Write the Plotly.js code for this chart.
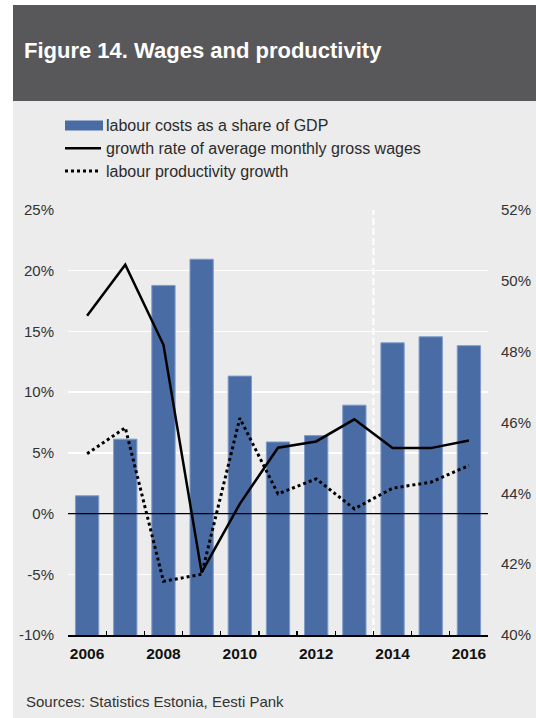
<!DOCTYPE html>
<html>
<head>
<meta charset="utf-8">
<script src="https://cdn.plot.ly/plotly-3.0.1.min.js"></script>
<style>html,body{margin:0;padding:0;background:#fff;}#chart{width:536px;height:718px;}</style>
</head>
<body>
<div id="chart"></div>
<script>
// ---- data ----
var years = ['2006','2007','2008','2009','2010','2011','2012','2013','2014','2015','2016'];
var yearLabels = ['2006','','2008','','2010','','2012','','2014','','2016'];
var labourShare = [43.93, 45.53, 49.87, 50.61, 47.31, 45.45, 45.63, 46.49, 48.25, 48.42, 48.17];
var wageGrowth = [16.3, 20.5, 13.9, -4.85, 0.8, 5.42, 5.94, 7.76, 5.39, 5.39, 6.02];
var productivityGrowth = [4.93, 7.07, -5.58, -5.0, 7.86, 1.62, 2.86, 0.39, 2.09, 2.58, 3.96];
var seriesNames = ['labour costs as a share of GDP', 'growth rate of average monthly gross wages', 'labour productivity growth'];
var leftTickVals = [-10, -5, 0, 5, 10, 15, 20, 25];
var leftTickText = ['-10%', '-5%', '0%', '5%', '10%', '15%', '20%', '25%'];
var rightTickVals = [40, 42, 44, 46, 48, 50, 52];
var rightTickText = ['40%', '42%', '44%', '46%', '48%', '50%', '52%'];

// ---- layout geometry (pixels) ----
var W = 536, H = 718;
var mL = 68, mR = 48, mT = 210, mB = 83;
var pw = W - mL - mR, ph = H - mT - mB;
function px(x){ return (x - mL) / pw; }
function py(y){ return (H - mB - y) / ph; }

var FONT = 'Liberation Sans, Arial, Helvetica, sans-serif';
var barColor = '#4a6ca5';

var traces = [
  {type:'bar', x: years, y: labourShare, name: seriesNames[0], yaxis:'y', xaxis:'x',
   marker:{color: barColor, line:{color:'#7f9bc9', width:1}}, showlegend:false, hoverinfo:'skip'},
  {type:'scatter', mode:'lines', x: years, y: wageGrowth, name: seriesNames[1], yaxis:'y2', xaxis:'x',
   line:{color:'#000', width:2.5}, showlegend:false},
  {type:'scatter', mode:'lines', x: years, y: productivityGrowth, name: seriesNames[2], yaxis:'y2', xaxis:'x',
   line:{color:'#000', width:3, dash:'dot'}, showlegend:false}
];

var shapes = [
  {type:'rect', xref:'paper', yref:'paper', x0:px(13), x1:px(540), y0:py(722), y1:py(5), fillcolor:'#ebeceb', line:{width:0}, layer:'below'},
  {type:'rect', xref:'paper', yref:'paper', x0:px(13), x1:px(540), y0:py(101), y1:py(5), fillcolor:'#58585a', line:{width:0}, layer:'below'},
  {type:'line', xref:'x', yref:'paper', x0:7.5, x1:7.5, y0:0, y1:1, line:{color:'#ffffff', width:2, dash:'7px,3px'}, layer:'below'},
  {type:'line', xref:'paper', yref:'y2', x0:0, x1:1, y0:0, y1:0, line:{color:'#000', width:1.2}, layer:'above'},
  {type:'rect', xref:'paper', yref:'paper', x0:px(65), x1:px(103), y0:py(130.5), y1:py(120.5), fillcolor:barColor, line:{width:0}},
  {type:'line', xref:'paper', yref:'paper', x0:px(65), x1:px(101), y0:py(148.3), y1:py(148.3), line:{color:'#000', width:2.5}},
  {type:'line', xref:'paper', yref:'paper', x0:px(65), x1:px(100), y0:py(171), y1:py(171), line:{color:'#000', width:3, dash:'dot'}}
];

var legendY = [125.5, 148.3, 171];
var annotations = seriesNames.map(function(n, i){
  return {xref:'paper', yref:'paper', x:px(103.5), y:py(legendY[i]), xanchor:'left', yanchor:'middle',
          text:n, showarrow:false, font:{family:FONT, size:16, color:'#2b2b2b'}};
});
annotations.push({xref:'paper', yref:'paper', x:px(24), y:py(701), xanchor:'left', yanchor:'middle',
  text:'Sources: Statistics Estonia, Eesti Pank', showarrow:false, font:{family:FONT, size:15, color:'#333'}});

var layout = {
  width: W, height: H,
  margin:{l:mL, r:mR, t:mT, b:mB, pad:0},
  paper_bgcolor:'#ffffff',
  plot_bgcolor:'rgba(0,0,0,0)',
  showlegend:false,
  bargap:0.39,
  title:{text:'Figure 14. Wages and productivity', xref:'container', yref:'container',
         x:24/W, xanchor:'left', y:1-50.3/H, yanchor:'middle',
         font:{family:FONT, size:22, color:'#ffffff', weight:700}},
  xaxis:{type:'category', tickmode:'array', tickvals:years, ticktext:yearLabels, tickangle:0,
         tickson:'boundaries', ticks:'inside', ticklen:4, tickwidth:1.2, tickcolor:'#000',
         showline:true, linecolor:'#000', linewidth:1.5, showgrid:false, zeroline:false,
         tickfont:{family:FONT, size:15.5, color:'#111', weight:700}, ticklabelstandoff:4,
         range:[-0.5, 10.5], fixedrange:true},
  yaxis:{range:[40,52], tickmode:'array', tickvals:rightTickVals, ticktext:rightTickText, side:'right',
         showgrid:false, zeroline:false, showline:false, ticks:'',
         tickfont:{family:FONT, size:15, color:'#333'}, ticklabelstandoff:12},
  yaxis2:{range:[-10,25], tickmode:'array', tickvals:leftTickVals, ticktext:leftTickText, side:'left', overlaying:'y',
          showgrid:true, gridcolor:'#ffffff', gridwidth:1.5, zeroline:false, showline:false, ticks:'',
          tickfont:{family:FONT, size:15, color:'#333'}, ticklabelstandoff:13},
  shapes: shapes,
  annotations: annotations
};

Plotly.newPlot('chart', traces, layout, {staticPlot:true, displayModeBar:false});
</script>
</body>
</html>
